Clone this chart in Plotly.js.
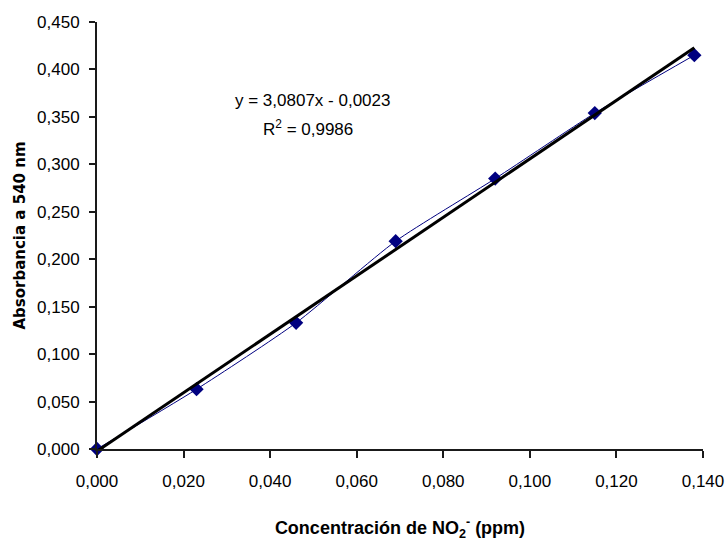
<!DOCTYPE html>
<html>
<head>
<meta charset="utf-8">
<script src="https://cdn.plot.ly/plotly-3.0.1.min.js"></script>
<style>html,body{margin:0;padding:0;background:#fff;}#chart{width:726px;height:544px;}</style>
</head>
<body>
<div id="chart"></div>
<script>
// Data
var concentration = [0.000, 0.023, 0.046, 0.069, 0.092, 0.115, 0.138];
var absorbance    = [0.000, 0.063, 0.133, 0.219, 0.285, 0.354, 0.415];
var trendX = [0.000, 0.138];
var trendY = [-0.0023, 0.4228];
var equationText = "y = 3,0807x - 0,0023";
var r2Text = "R<sup>2</sup> = 0,9986";
var xTickVals = [0, 0.02, 0.04, 0.06, 0.08, 0.10, 0.12, 0.14];
var yTickVals = [0, 0.05, 0.10, 0.15, 0.20, 0.25, 0.30, 0.35, 0.40, 0.45];

var sans = "Liberation Sans, Arial, sans-serif";

var traces = [
  {
    x: concentration, y: absorbance, type: "scatter", mode: "lines+markers",
    line: {color: "#000080", width: 1, shape: "spline", smoothing: 0.6},
    marker: {symbol: "diamond", size: 11, color: "#000080"},
    cliponaxis: false, showlegend: false, hoverinfo: "skip"
  },
  {
    x: trendX, y: trendY, type: "scatter", mode: "lines",
    line: {color: "#000000", width: 3},
    showlegend: false, hoverinfo: "skip"
  }
];

var layout = {
  width: 726, height: 544,
  paper_bgcolor: "#ffffff", plot_bgcolor: "#ffffff",
  margin: {l: 97, r: 23, t: 22, b: 95},
  separators: ",.",
  showlegend: false,
  font: {family: sans, size: 17, color: "#000000"},
  xaxis: {
    range: [0, 0.14], tickvals: xTickVals, tickformat: ".3f",
    showgrid: false, zeroline: false, showline: true,
    linecolor: "#1a1a1a", linewidth: 2,
    ticks: "outside", ticklen: 7, tickwidth: 2, tickcolor: "#1a1a1a",
    ticklabelstandoff: 9, ticklabeloverflow: "allow",
    tickfont: {family: sans, size: 17, color: "#000"},
    title: {
      text: "Concentración de NO<sub>2</sub><sup>-</sup> (ppm)",
      font: {family: sans, size: 18, color: "#000", weight: "bold"},
      standoff: 31
    }
  },
  yaxis: {
    range: [0, 0.45], tickvals: yTickVals, tickformat: ".3f",
    showgrid: false, zeroline: false, showline: true,
    linecolor: "#1a1a1a", linewidth: 2,
    ticks: "outside", ticklen: 6, tickwidth: 2, tickcolor: "#1a1a1a",
    ticklabelstandoff: 6,
    tickfont: {family: sans, size: 17, color: "#000"},
    title: {
      text: "Absorbancia a 540 nm",
      font: {family: "DejaVu Sans, sans-serif", size: 15, color: "#000", weight: "bold"},
      standoff: 8
    }
  },
  annotations: [
    {xref: "paper", yref: "paper", x: 0.355, y: 0.817, text: equationText,
     showarrow: false, xanchor: "center", yanchor: "middle",
     font: {family: sans, size: 17, color: "#000"}},
    {xref: "paper", yref: "paper", x: 0.348, y: 0.752, text: r2Text,
     showarrow: false, xanchor: "center", yanchor: "middle",
     font: {family: sans, size: 17, color: "#000"}}
  ]
};

Plotly.newPlot("chart", traces, layout, {displayModeBar: false, staticPlot: true});
</script>
</body>
</html>
